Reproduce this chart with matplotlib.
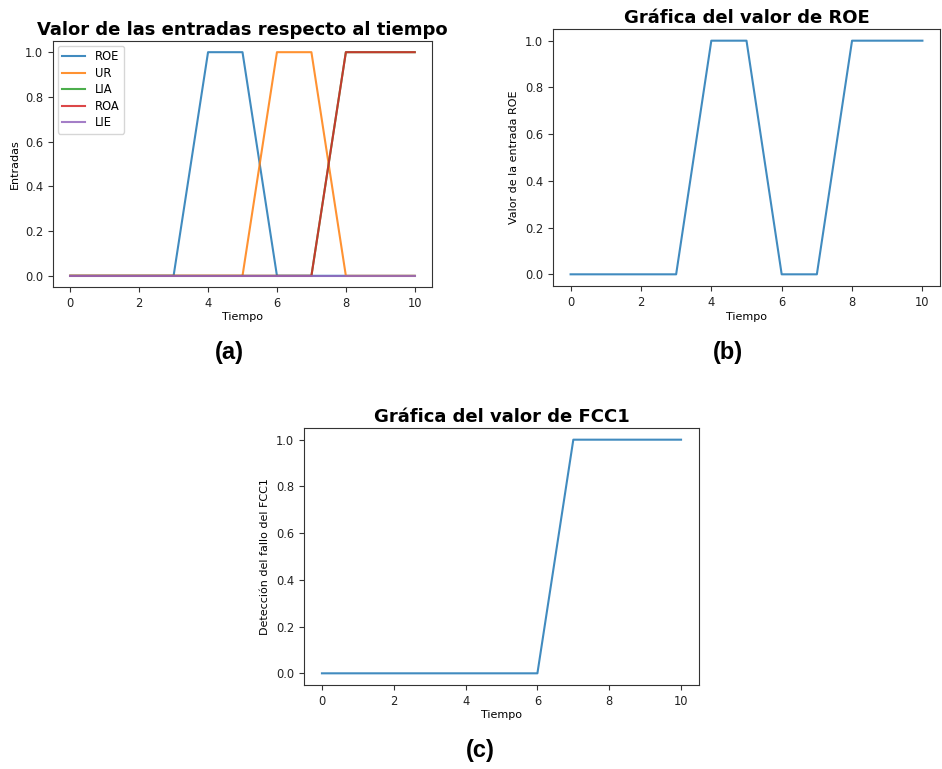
import matplotlib.pyplot as plt

# datos
tiempo = [0, 1, 2, 3, 4, 5, 6, 7, 8, 9, 10]
roe_a = [0, 0, 0, 0, 1, 1, 0, 0, 0, 0, 0]
ur = [0, 0, 0, 0, 0, 0, 1, 1, 0, 0, 0]
lia = [0, 0, 0, 0, 0, 0, 0, 0, 1, 1, 1]
roa = [0, 0, 0, 0, 0, 0, 0, 0, 1, 1, 1]
lie = [0, 0, 0, 0, 0, 0, 0, 0, 0, 0, 0]
roe_b = [0, 0, 0, 0, 1, 1, 0, 0, 1, 1, 1]
fcc1 = [0, 0, 0, 0, 0, 0, 0, 1, 1, 1, 1]

series_a = [("ROE", roe_a), ("UR", ur), ("LIA", lia), ("ROA", roa), ("LIE", lie)]

W, H = 942, 769
fig = plt.figure(figsize=(W / 100, H / 100), dpi=100)

def box(l, t, r, b):
    return [l / W, 1 - b / H, (r - l) / W, (b - t) / H]

tick_fs = 8.3
lab_fs = 8.0
title_fs = 13

def style(ax):
    ax.tick_params(labelsize=tick_fs, colors="#333333", labelcolor="#222222")
    for s in ax.spines.values():
        s.set_color("#333333")
    ax.set_xticks([0, 2, 4, 6, 8, 10])
    ax.set_yticks([0.0, 0.2, 0.4, 0.6, 0.8, 1.0])

# (a)
ax1 = fig.add_axes(box(53, 41, 432, 287))
for name, vals in series_a:
    ax1.plot(tiempo, vals, label=name, lw=1.5, alpha=0.85)
ax1.set_title("Valor de las entradas respecto al tiempo", fontsize=title_fs, fontweight="bold", pad=4)
ax1.set_xlabel("Tiempo", fontsize=lab_fs, labelpad=2)
ax1.set_ylabel("Entradas", fontsize=lab_fs)
ax1.legend(loc="upper left", fontsize=tick_fs, labelspacing=0.3, borderaxespad=0.4)
style(ax1)

# (b)
ax2 = fig.add_axes(box(553, 29, 940, 286))
ax2.plot(tiempo, roe_b, lw=1.5, alpha=0.85)
ax2.set_title("Gráfica del valor de ROE", fontsize=title_fs, fontweight="bold", pad=4)
ax2.set_xlabel("Tiempo", fontsize=lab_fs, labelpad=2)
ax2.set_ylabel("Valor de la entrada ROE", fontsize=lab_fs)
style(ax2)

# (c)
ax3 = fig.add_axes(box(304, 428, 699, 685))
ax3.plot(tiempo, fcc1, lw=1.5, alpha=0.85)
ax3.set_title("Gráfica del valor de FCC1", fontsize=title_fs, fontweight="bold", pad=4)
ax3.set_xlabel("Tiempo", fontsize=lab_fs, labelpad=2)
ax3.set_ylabel("Detección del fallo del FCC1", fontsize=lab_fs)
style(ax3)

fam = ["Liberation Sans Narrow", "Liberation Sans", "DejaVu Sans"]
for txt, x, y in [("(a)", 229, 352), ("(b)", 728, 352), ("(c)", 480, 750)]:
    fig.text(x / W, 1 - y / H, txt, ha="center", va="center", fontsize=17,
             fontweight="bold", family=fam)

fig.savefig("out.png", dpi=100)
